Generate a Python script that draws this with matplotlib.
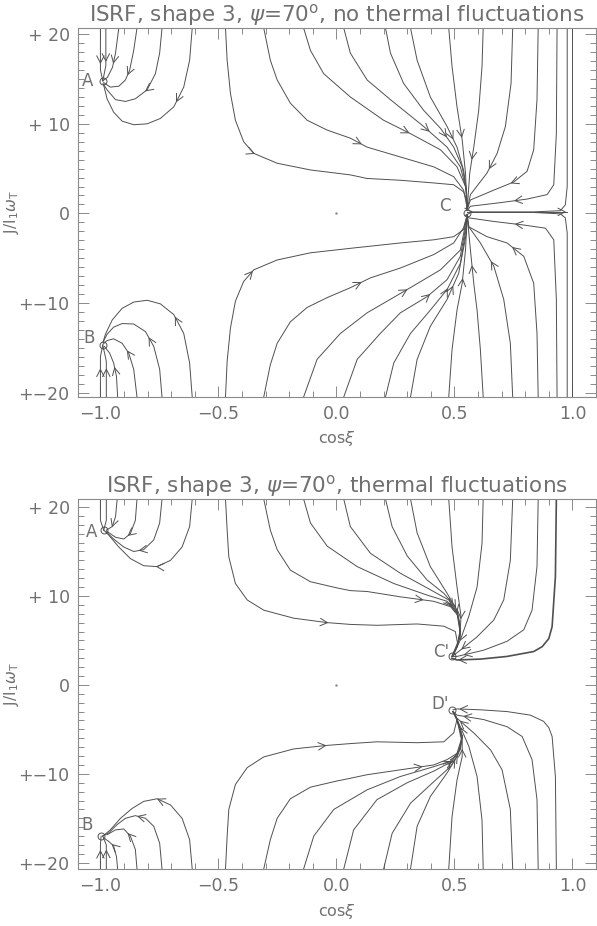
import numpy as np
import matplotlib
matplotlib.use("Agg")
import matplotlib.pyplot as plt
from matplotlib.ticker import MultipleLocator, FixedLocator, FixedFormatter

# ---------------- data (cos xi, J / I1 omega_T) ----------------
# upper panel: no thermal fluctuations
TOP_A = (-0.99, 14.8)
TOP_B = (-0.99, -14.7)
TOP_C = (0.554, 0.1)

top_a_x = [[-1.0, -1.0, -0.99],
           [-0.977, -0.977, -0.99],
           [-0.922, -0.936, -0.949, -0.970, -0.99],
           [-0.845, -0.859, -0.876, -0.894, -0.922, -0.958, -0.986],
           [-0.739, -0.749, -0.767, -0.802, -0.852, -0.894, -0.936, -0.972, -0.989],
           [-0.611, -0.622, -0.647, -0.689, -0.746, -0.802, -0.859, -0.908, -0.944, -0.972, -0.986]]
top_a_y = [[20.7, 16.0, 14.8],
           [20.7, 16.5, 14.8],
           [20.7, 17.9, 16.3, 15.2, 14.8],
           [20.7, 18.2, 16.0, 14.9, 14.2, 14.1, 14.6],
           [20.7, 17.9, 15.6, 13.8, 12.8, 12.5, 12.7, 13.8, 14.5],
           [20.7, 17.1, 14.1, 11.9, 10.6, 10.0, 9.9, 10.3, 11.3, 12.8, 14.3]]

top_b_x = [[-1.0, -1.0, -0.99],
           [-0.975, -0.975, -0.99],
           [-0.927, -0.932, -0.944, -0.961, -0.983],
           [-0.845, -0.859, -0.880, -0.908, -0.944, -0.972, -0.989],
           [-0.739, -0.749, -0.774, -0.809, -0.859, -0.908, -0.944, -0.972, -0.989],
           [-0.611, -0.622, -0.647, -0.689, -0.746, -0.802, -0.859, -0.908, -0.950, -0.979, -0.989]]
top_b_y = [[-20.5, -16.0, -14.7],
           [-20.5, -16.5, -14.7],
           [-20.5, -18.2, -16.7, -15.6, -14.85],
           [-20.5, -17.4, -15.6, -14.5, -14.0, -14.2, -14.6],
           [-20.5, -17.4, -14.85, -13.2, -12.35, -12.3, -12.7, -13.5, -14.4],
           [-20.5, -16.7, -13.4, -11.3, -10.1, -9.7, -9.9, -10.6, -11.9, -13.5, -14.4]]

top_c_x = [[-0.470, -0.463, -0.449, -0.428, -0.393, -0.350, -0.251, -0.110, 0.059, 0.130, 0.271, 0.412, 0.497, 0.539, 0.551, 0.554],
           [-0.308, -0.280, -0.251, -0.195, -0.124, -0.039, 0.059, 0.130, 0.271, 0.412, 0.497, 0.539, 0.554],
           [-0.139, -0.110, -0.054, 0.059, 0.200, 0.314, 0.441, 0.511, 0.547, 0.554],
           [0.031, 0.059, 0.130, 0.229, 0.370, 0.469, 0.525, 0.551, 0.554],
           [0.208, 0.229, 0.285, 0.370, 0.441, 0.497, 0.533, 0.551, 0.554],
           [0.314, 0.342, 0.398, 0.469, 0.511, 0.539, 0.551, 0.554],
           [0.476, 0.490, 0.511, 0.533, 0.547, 0.554],
           [0.622, 0.617, 0.603, 0.582, 0.565, 0.554],
           [0.747, 0.740, 0.716, 0.681, 0.638, 0.568, 0.554],
           [0.855, 0.850, 0.836, 0.808, 0.751, 0.667, 0.568, 0.554],
           [0.935, 0.932, 0.921, 0.893, 0.808, 0.695, 0.568, 0.554],
           [0.978, 0.978, 0.970, 0.949, 0.836, 0.568]]
top_c_y = [[20.7, 17.1, 13.4, 10.4, 8.0, 6.7, 5.6, 4.85, 4.3, 3.9, 3.7, 3.4, 3.2, 2.4, 1.5, 0.4],
           [20.7, 17.1, 14.9, 12.3, 10.4, 9.3, 8.4, 7.4, 6.3, 5.2, 4.1, 2.6, 0.6],
           [20.7, 18.2, 15.6, 13.0, 10.4, 8.9, 7.1, 5.2, 3.0, 0.6],
           [20.7, 17.9, 14.9, 12.7, 9.7, 7.4, 5.2, 2.6, 0.4],
           [20.7, 17.9, 14.5, 11.5, 9.5, 7.4, 5.2, 2.6, 0.4],
           [20.7, 17.1, 13.0, 9.7, 7.4, 4.8, 2.6, 0.4],
           [20.7, 16.4, 11.9, 8.2, 4.5, 0.4],
           [20.7, 16.4, 11.5, 7.4, 4.5, 0.4],
           [20.7, 14.5, 9.7, 6.7, 4.5, 2.1, 0.4],
           [20.7, 12.7, 7.1, 4.7, 3.5, 2.6, 1.5, 0.4],
           [20.7, 8.9, 3.2, 2.1, 1.6, 1.2, 0.8, 0.3],
           [20.7, 3.0, 0.95, 0.3, 0.17, 0.17]]

top_d_x = [[-0.470, -0.463, -0.449, -0.428, -0.393, -0.350, -0.251, -0.110, 0.059, 0.130, 0.271, 0.412, 0.497, 0.539, 0.554],
           [-0.308, -0.280, -0.251, -0.195, -0.124, -0.039, 0.059, 0.144, 0.271, 0.412, 0.497, 0.539, 0.554],
           [-0.139, -0.082, 0.017, 0.130, 0.300, 0.441, 0.525, 0.551, 0.554],
           [0.031, 0.088, 0.186, 0.271, 0.384, 0.469, 0.525, 0.551, 0.554],
           [0.208, 0.243, 0.314, 0.398, 0.469, 0.525, 0.551, 0.554],
           [0.314, 0.342, 0.398, 0.469, 0.518, 0.551, 0.554],
           [0.476, 0.490, 0.511, 0.533, 0.547, 0.554],
           [0.622, 0.610, 0.596, 0.582, 0.568, 0.554],
           [0.747, 0.737, 0.709, 0.667, 0.610, 0.561, 0.554],
           [0.855, 0.850, 0.836, 0.794, 0.723, 0.638, 0.561, 0.554],
           [0.935, 0.932, 0.921, 0.886, 0.794, 0.667, 0.561, 0.554],
           [0.978, 0.978, 0.970, 0.949, 0.836, 0.568]]
top_d_y = [[-20.5, -16.5, -12.8, -9.8, -7.6, -6.3, -5.2, -4.4, -3.9, -3.7, -3.3, -2.95, -2.6, -1.8, -0.2],
           [-20.5, -16.9, -14.5, -12.1, -10.5, -9.4, -8.3, -7.2, -6.1, -4.6, -3.3, -1.6, -0.2],
           [-20.5, -16.3, -13.4, -11.1, -8.5, -6.3, -4.1, -0.7, -0.2],
           [-20.5, -16.3, -13.4, -11.1, -9.3, -7.4, -4.8, -1.1, -0.2],
           [-20.5, -16.7, -13.4, -10.8, -8.5, -5.6, -1.5, -0.2],
           [-20.5, -16.3, -12.6, -9.6, -6.7, -2.2, -0.2],
           [-20.5, -15.2, -10.8, -7.8, -4.1, -0.2],
           [-20.5, -15.2, -10.8, -7.8, -4.1, -0.2],
           [-20.5, -14.5, -9.6, -5.9, -3.3, -1.5, -0.2],
           [-20.5, -13.4, -7.8, -4.8, -3.3, -2.6, -1.5, -0.2],
           [-20.5, -9.6, -2.95, -1.65, -1.3, -0.9, -0.5, -0.2],
           [-20.5, -2.2, -0.5, -0.05, 0.1, 0.1]]

top_edge_x = [[1.0, 1.0], [0.554, 0.978]]
top_edge_y = [[20.7, -20.5], [0.17, 0.17]]

# lower panel: thermal fluctuations
BOT_A = (-0.986, 17.4)
BOT_B = (-0.997, -17.0)
BOT_C = (0.490, 3.2)
BOT_D = (0.490, -2.8)

bot_a_x = [[-1.0, -1.0, -0.986],
           [-0.975, -0.975, -0.986],
           [-0.929, -0.936, -0.950, -0.975],
           [-0.845, -0.852, -0.873, -0.901, -0.936, -0.975],
           [-0.739, -0.749, -0.774, -0.817, -0.859, -0.901, -0.944, -0.975],
           [-0.611, -0.622, -0.654, -0.703, -0.760, -0.817, -0.873, -0.922, -0.965, -0.986]]
bot_a_y = [[20.9, 18.5, 17.4],
           [20.9, 18.5, 17.4],
           [20.9, 18.9, 17.8, 17.4],
           [20.9, 18.5, 17.0, 16.4, 16.6, 17.3],
           [20.9, 18.2, 16.3, 15.2, 15.0, 15.5, 16.4, 17.2],
           [20.9, 17.8, 15.5, 14.0, 13.3, 13.4, 14.2, 15.5, 16.85, 17.4]]

bot_b_x = [[-1.0, -1.0, -0.997],
           [-0.975, -0.975, -0.99],
           [-0.927, -0.932, -0.944, -0.965, -0.986],
           [-0.845, -0.852, -0.873, -0.901, -0.936, -0.972],
           [-0.739, -0.749, -0.774, -0.809, -0.852, -0.894, -0.929, -0.965, -0.99],
           [-0.611, -0.622, -0.654, -0.703, -0.760, -0.817, -0.866, -0.915, -0.958, -0.99]]
bot_b_y = [[-20.7, -18.0, -17.0],
           [-20.7, -18.0, -17.0],
           [-20.7, -19.3, -18.1, -17.6, -17.2],
           [-20.7, -18.5, -17.0, -16.2, -16.3, -16.85],
           [-20.7, -17.8, -15.9, -15.0, -14.7, -15.0, -15.7, -16.65, -17.0],
           [-20.7, -17.4, -15.0, -13.5, -12.8, -13.1, -13.9, -15.0, -16.3, -17.0]]

bot_c_x = [[-0.470, -0.463, -0.456, -0.428, -0.378, -0.308, -0.181, -0.039, 0.059, 0.172, 0.342, 0.455, 0.504, 0.514, 0.490],
           [-0.308, -0.280, -0.251, -0.195, -0.110, 0.003, 0.059, 0.130, 0.271, 0.412, 0.483, 0.518, 0.525, 0.511, 0.490],
           [-0.139, -0.110, -0.039, 0.088, 0.243, 0.384, 0.469, 0.511, 0.525, 0.511, 0.490],
           [0.031, 0.059, 0.144, 0.271, 0.398, 0.476, 0.514, 0.525, 0.511, 0.490],
           [0.208, 0.236, 0.300, 0.384, 0.455, 0.504, 0.525, 0.518, 0.490],
           [0.314, 0.342, 0.398, 0.469, 0.511, 0.525, 0.511, 0.490],
           [0.476, 0.490, 0.511, 0.528, 0.523, 0.511, 0.490],
           [0.622, 0.617, 0.596, 0.561, 0.525, 0.497],
           [0.747, 0.737, 0.709, 0.667, 0.596, 0.525, 0.490],
           [0.855, 0.850, 0.829, 0.794, 0.723, 0.624, 0.511, 0.490],
           [0.932, 0.928, 0.914, 0.900, 0.872, 0.836, 0.723, 0.610, 0.511, 0.490]]
bot_c_y = [[20.9, 17.4, 14.4, 11.4, 9.55, 8.4, 7.5, 7.0, 6.8, 6.7, 6.85, 6.6, 6.0, 4.6, 3.2],
           [20.9, 17.4, 15.2, 12.9, 11.6, 10.9, 10.6, 10.5, 9.9, 9.4, 8.8, 7.7, 5.8, 4.3, 3.2],
           [20.9, 18.2, 15.6, 13.3, 11.4, 10.1, 9.4, 8.05, 5.8, 4.3, 3.2],
           [20.9, 17.8, 14.8, 12.55, 10.7, 9.55, 8.05, 5.8, 4.3, 3.2],
           [20.9, 17.8, 14.5, 11.8, 10.3, 8.8, 6.55, 5.05, 3.2],
           [20.9, 17.1, 13.3, 10.3, 8.4, 6.2, 4.3, 3.2],
           [20.9, 15.5, 11.0, 7.7, 5.4, 4.3, 3.2],
           [20.9, 15.9, 11.0, 7.7, 5.05, 3.4],
           [20.9, 14.0, 9.55, 7.3, 5.4, 3.9, 3.2],
           [20.9, 13.3, 8.4, 6.2, 4.9, 3.9, 3.2, 3.2],
           [20.9, 12.2, 6.55, 5.2, 4.3, 3.75, 3.2, 2.9, 2.8, 3.0]]

bot_d_x = [[-0.470, -0.463, -0.456, -0.428, -0.378, -0.308, -0.181, -0.039, 0.059, 0.172, 0.342, 0.455, 0.497, 0.511, 0.494],
           [-0.308, -0.280, -0.251, -0.195, -0.110, 0.003, 0.059, 0.130, 0.271, 0.412, 0.469, 0.511, 0.533, 0.511, 0.494],
           [-0.139, -0.096, -0.011, 0.130, 0.271, 0.412, 0.483, 0.525, 0.533, 0.511, 0.494],
           [0.031, 0.073, 0.172, 0.300, 0.412, 0.490, 0.525, 0.533, 0.511, 0.494],
           [0.200, 0.236, 0.314, 0.412, 0.483, 0.518, 0.533, 0.511, 0.494],
           [0.314, 0.342, 0.398, 0.469, 0.511, 0.530, 0.511, 0.494],
           [0.476, 0.490, 0.511, 0.533, 0.533, 0.511, 0.494],
           [0.622, 0.617, 0.596, 0.561, 0.525, 0.500],
           [0.747, 0.737, 0.702, 0.653, 0.582, 0.511, 0.494],
           [0.855, 0.850, 0.829, 0.787, 0.723, 0.624, 0.511, 0.494],
           [0.932, 0.928, 0.914, 0.900, 0.878, 0.822, 0.723, 0.610, 0.511, 0.494]]
bot_d_y = [[-20.7, -17.0, -14.0, -11.2, -9.3, -8.1, -7.2, -6.8, -6.6, -6.4, -6.5, -6.4, -5.4, -3.9, -3.0],
           [-20.7, -17.4, -15.0, -12.8, -11.5, -10.8, -10.5, -10.1, -9.55, -9.0, -8.4, -7.7, -5.8, -3.9, -3.0],
           [-20.7, -17.0, -14.0, -11.8, -10.3, -9.2, -8.6, -7.3, -5.8, -3.9, -3.0],
           [-20.7, -16.3, -12.9, -11.0, -9.7, -8.6, -7.1, -5.8, -3.9, -3.0],
           [-20.7, -16.7, -13.3, -10.9, -9.2, -7.7, -5.8, -3.9, -3.0],
           [-20.7, -15.9, -12.55, -9.9, -8.05, -6.2, -3.9, -3.0],
           [-20.7, -14.8, -10.7, -8.05, -5.8, -3.9, -3.0],
           [-20.7, -15.2, -10.3, -6.9, -4.7, -3.2],
           [-20.7, -14.0, -9.55, -7.3, -5.4, -3.75, -3.0],
           [-20.7, -12.9, -8.4, -5.8, -4.7, -3.9, -3.4, -3.0],
           [-20.7, -10.3, -5.8, -4.8, -4.1, -3.4, -3.0, -2.8, -2.7, -2.8]]

# where the arrow heads sit along each path (fraction of path length)
top_a_arr = [0.66, 0.62, 0.62, 0.6, 0.55, 0.42]
top_b_arr = [0.53, 0.53, 0.55, 0.6, 0.5, 0.45]
top_c_arr = [0.36, 0.55, 0.6, 0.6, 0.62, 0.62, 0.6, 0.72, 0.75, 0.75, 0.8, None]
top_d_arr = [0.36, 0.55, 0.6, 0.6, 0.62, 0.62, 0.65, 0.72, 0.72, 0.72, 0.8, None]
bot_a_arr = [None, None, 0.8, 0.6, 0.6, 0.55]
bot_b_arr = [0.55, 0.55, 0.7, 0.6, 0.6, 0.55]
bot_c_arr = [0.55, 0.72, 0.78, 0.75, 0.75, 0.7, 0.75, 0.9, 0.93, 0.94, 0.97]
bot_d_arr = [0.55, 0.72, 0.78, 0.75, 0.75, 0.7, 0.75, 0.9, 0.93, 0.94, 0.97]

LINE = "#505050"
GREY = "#8a8a8a"
TEXT = "#707070"

fig = plt.figure(figsize=(5.97, 9.26), dpi=100)
plt.rcParams["font.family"] = ["DejaVu Sans"]
plt.rcParams["mathtext.fontset"] = "dejavusans"


def chevron(ax, xs, ys, frac, size=8.0, ang=27.0):
    pts = ax.transData.transform(np.column_stack([xs, ys]))
    seg = np.diff(pts, axis=0)
    ln = np.hypot(seg[:, 0], seg[:, 1])
    ok = ln > 0
    seg, ln = seg[ok], ln[ok]
    start = pts[:-1][ok]
    cum = np.concatenate([[0], np.cumsum(ln)])
    s = frac * cum[-1]
    i = int(np.clip(np.searchsorted(cum, s) - 1, 0, len(seg) - 1))
    t = (s - cum[i]) / ln[i]
    tip = start[i] + t * seg[i]
    b = -seg[i] / ln[i]
    out = []
    for a in (ang, -ang):
        r = np.radians(a)
        rb = np.array([b[0] * np.cos(r) - b[1] * np.sin(r), b[0] * np.sin(r) + b[1] * np.cos(r)])
        out.append(tip + size * rb)
    path = np.array([out[0], tip, out[1]])
    dat = ax.transData.inverted().transform(path)
    ax.plot(dat[:, 0], dat[:, 1], color=LINE, lw=0.7)


def style(ax, ylim, title):
    ax.set_xlim(-1.095, 1.10)
    ax.set_ylim(*ylim)
    ax.xaxis.set_major_locator(FixedLocator([-1.0, -0.5, 0.0, 0.5, 1.0]))
    ax.xaxis.set_major_formatter(FixedFormatter(["\u22121.0", "\u22120.5", "0.0", "0.5", "1.0"]))
    ax.xaxis.set_minor_locator(MultipleLocator(0.1))
    ax.yaxis.set_major_locator(FixedLocator([-20, -10, 0, 10, 20]))
    ax.yaxis.set_major_formatter(FixedFormatter(["+\u221220", "+\u221210", "0", "+ 10", "+ 20"]))
    ax.yaxis.set_minor_locator(MultipleLocator(1))
    ax.tick_params(which="both", direction="in", top=True, right=True, colors=GREY,
                   labelcolor=TEXT, labelsize=12.5, width=0.7)
    ax.tick_params(which="major", length=8, pad=6)
    ax.tick_params(which="minor", length=4)
    for sp in ax.spines.values():
        sp.set_color(GREY)
        sp.set_linewidth(0.8)
    ax.set_title(title, color=TEXT, fontsize=15.5, pad=3)
    ax.set_xlabel(r"cos$\xi$", color=TEXT, fontsize=11.5)
    ax.xaxis.set_label_coords(0.5, -0.088)
    ax.set_ylabel(r"J/I$_1\omega_{\rm T}$", color=TEXT, fontsize=11)
    ax.yaxis.set_label_coords(-0.11, 0.5)


def draw_group(ax, xs_list, ys_list, arr, lws=None):
    for k, (xs, ys) in enumerate(zip(xs_list, ys_list)):
        lw = 0.7 if lws is None else lws[k]
        ax.plot(xs, ys, color=LINE, lw=lw)
        if arr[k] is not None:
            chevron(ax, xs, ys, arr[k])


def mark(ax, pt, label, dx, dy):
    ax.plot(*pt, marker="o", ms=5, mfc="none", mec=LINE, mew=0.7)
    ax.annotate(label, pt, xytext=(dx, dy), textcoords="offset points",
                color=TEXT, fontsize=12, ha="right", va="center")


ax1 = fig.add_axes([78 / 597, 1 - 397 / 926, 518 / 597, 369 / 926])
style(ax1, (-20.5, 20.7), r"ISRF, shape 3, $\psi$=70$^{\rm o}$, no thermal fluctuations")
draw_group(ax1, top_a_x, top_a_y, top_a_arr)
draw_group(ax1, top_b_x, top_b_y, top_b_arr)
draw_group(ax1, top_c_x, top_c_y, top_c_arr)
draw_group(ax1, top_d_x, top_d_y, top_d_arr)
for xs, ys in zip(top_edge_x, top_edge_y):
    ax1.plot(xs, ys, color=LINE, lw=0.7)
chevron(ax1, top_edge_x[1], top_edge_y[1], 0.98)
chevron(ax1, top_edge_x[1], top_edge_y[1], 0.05)
ax1.plot(0, 0, marker=".", ms=1.5, color=GREY)
mark(ax1, TOP_A, "A", -7, 0)
mark(ax1, TOP_B, "B", -6, 5)
mark(ax1, TOP_C, "C", -12, 5)

ax2 = fig.add_axes([78 / 597, 1 - 869 / 926, 518 / 597, 370 / 926])
style(ax2, (-20.7, 20.9), r"ISRF, shape 3, $\psi$=70$^{\rm o}$, thermal fluctuations")
draw_group(ax2, bot_a_x, bot_a_y, bot_a_arr)
draw_group(ax2, bot_b_x, bot_b_y, bot_b_arr)
draw_group(ax2, bot_c_x, bot_c_y, bot_c_arr, lws=[0.7] * 10 + [1.2])
draw_group(ax2, bot_d_x, bot_d_y, bot_d_arr)
ax2.plot(0, 0, marker=".", ms=1.5, color=GREY)
mark(ax2, BOT_A, "A", -5, -1)
mark(ax2, BOT_B, "B", -6, 8)
mark(ax2, BOT_C, "C'", -2, 3)
mark(ax2, BOT_D, "D'", -2, 4)

fig.savefig("out.png", dpi=100)
